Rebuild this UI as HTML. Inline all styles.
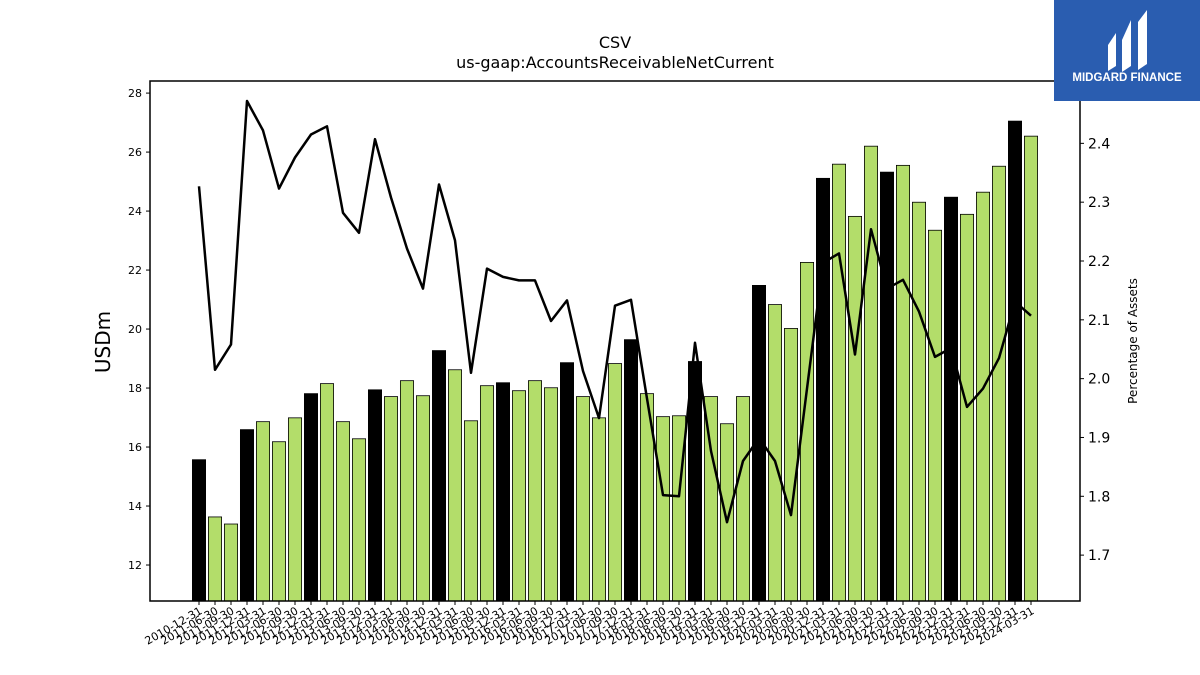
<!DOCTYPE html>
<html><head><meta charset="utf-8">
<style>
html,body{margin:0;padding:0;background:#fff;width:1200px;height:675px;overflow:hidden;font-family:"Liberation Sans","DejaVu Sans",sans-serif;}
svg text{font-family:"DejaVu Sans","Liberation Sans",sans-serif;}
</style></head>
<body>
<svg id="chart" width="1200" height="675" xmlns="http://www.w3.org/2000/svg">
<text x="615" y="48" font-size="16" text-anchor="middle">CSV</text>
<text x="615" y="68" font-size="16" text-anchor="middle">us-gaap:AccountsReceivableNetCurrent</text>
<text transform="translate(110,342) rotate(-90)" font-size="20" text-anchor="middle">USDm</text>
<text transform="translate(1137,341) rotate(-90)" font-size="12" text-anchor="middle">Percentage of Assets</text>
<g id="bars"></g>
<g id="line"></g>
<g id="axes"></g>
<rect x="150" y="81" width="930" height="520" fill="none" stroke="#000" stroke-width="1.5"/>
<g>
<rect x="1054" y="0" width="146" height="101" fill="#2a5db0"/>
<path d="M1108 45 L1116 33 L1116 66 L1108 71 Z" fill="#fff"/>
<path d="M1122 40 L1131 20 L1131 66 L1122 72 Z" fill="#fff"/>
<path d="M1138 22 L1147 10 L1147 64 L1138 70 Z" fill="#fff"/>
<text x="1127" y="81" font-size="11.5" font-weight="bold" fill="#fff" text-anchor="middle" style="font-family:'Liberation Sans',sans-serif">MIDGARD FINANCE</text>
</g>
</svg>
<script>
const dates=["2010-12-31","2011-06-30","2011-09-30","2011-12-31","2012-03-31","2012-06-30","2012-09-30","2012-12-31","2013-03-31","2013-06-30","2013-09-30","2013-12-31","2014-03-31","2014-06-30","2014-09-30","2014-12-31","2015-03-31","2015-06-30","2015-09-30","2015-12-31","2016-03-31","2016-06-30","2016-09-30","2016-12-31","2017-03-31","2017-06-30","2017-09-30","2017-12-31","2018-03-31","2018-06-30","2018-09-30","2018-12-31","2019-03-31","2019-06-30","2019-09-30","2019-12-31","2020-03-31","2020-06-30","2020-09-30","2020-12-31","2021-03-31","2021-06-30","2021-09-30","2021-12-31","2022-03-31","2022-06-30","2022-09-30","2022-12-31","2023-03-31","2023-06-30","2023-09-30","2023-12-31","2024-03-31"];
const barValues=[15.57,13.63,13.39,16.59,16.86,16.18,16.99,17.81,18.15,16.86,16.28,17.94,17.71,18.25,17.74,19.27,18.62,16.89,18.08,18.18,17.91,18.25,18.01,18.86,17.71,16.99,18.83,19.64,17.81,17.03,17.06,18.9,17.71,16.79,17.71,21.48,20.83,20.02,22.26,25.11,25.59,23.82,26.2,25.32,25.55,24.3,23.35,24.47,23.89,24.64,25.52,27.05,26.54];
const pctValues=[2.327,2.015,2.058,2.472,2.422,2.323,2.376,2.415,2.429,2.282,2.248,2.407,2.308,2.221,2.153,2.330,2.235,2.010,2.187,2.173,2.167,2.167,2.098,2.133,2.013,1.933,2.124,2.134,1.966,1.802,1.800,2.061,1.877,1.756,1.860,1.899,1.860,1.768,1.983,2.197,2.213,2.041,2.254,2.153,2.168,2.114,2.037,2.052,1.952,1.983,2.035,2.131,2.107];
const leftTicks=[12,14,16,18,20,22,24,26,28];
const rightTicks=[1.7,1.8,1.9,2.0,2.1,2.2,2.3,2.4];

const NS="http://www.w3.org/2000/svg";
const plotTop=81,plotBottom=601,plotLeft=150,plotRight=1080;
const yMin=10.78,yMax=28.41,y2Min=1.622,y2Max=2.506;
function xPos(i){return 199+(i)*(832/(dates.length-1));}
function yL(v){return plotBottom-(v-yMin)/(yMax-yMin)*(plotBottom-plotTop);}
function yR(v){return plotBottom-(v-y2Min)/(y2Max-y2Min)*(plotBottom-plotTop);}
function mk(tag,attrs,parent){const e=document.createElementNS(NS,tag);for(const k in attrs)e.setAttribute(k,attrs[k]);parent.appendChild(e);return e;}

const gb=document.getElementById('bars');
const bw=13.2;
barValues.forEach((v,i)=>{
  const annual=dates[i].endsWith("12-31");
  const r=mk('rect',{x:xPos(i)-bw/2,y:yL(v),width:bw,height:plotBottom-yL(v),fill:annual?'#000':'#b3dd6a',stroke:'#000','stroke-width':0.8},gb);
  
  
});

const gl=document.getElementById('line');
const pts=pctValues.map((v,i)=>xPos(i).toFixed(1)+','+yR(v).toFixed(1)).join(' ');
const pl=mk('polyline',{points:pts,fill:'none',stroke:'#000','stroke-width':2.5,'stroke-linejoin':'round'},gl);



const ga=document.getElementById('axes');
leftTicks.forEach(t=>{
  const y=yL(t);
  const l=mk('line',{x1:plotLeft-4,x2:plotLeft,y1:y,y2:y,stroke:'#000','stroke-width':1},ga);
  
  
  const tx=mk('text',{x:plotLeft-8,y:y+4,'font-size':11,'text-anchor':'end'},ga);
  tx.textContent=t;
  
  
});
rightTicks.forEach(t=>{
  const y=yR(t);
  const l=mk('line',{x1:plotRight,x2:plotRight+4,y1:y,y2:y,stroke:'#000','stroke-width':1},ga);
  
  
  const tx=mk('text',{x:plotRight+8,y:y+5,'font-size':14,'text-anchor':'start'},ga);
  tx.textContent=t.toFixed(1);
  
  
});
dates.forEach((d,i)=>{
  const x=xPos(i);
  const l=mk('line',{x1:x,x2:x,y1:plotBottom,y2:plotBottom+4,stroke:'#000','stroke-width':1},ga);
  
  
  const tx=mk('text',{transform:'translate('+(x+4)+','+(plotBottom+12)+') rotate(-30)','font-size':11,'text-anchor':'end'},ga);
  tx.textContent=d;
  
  
});
</script>
</body></html>
